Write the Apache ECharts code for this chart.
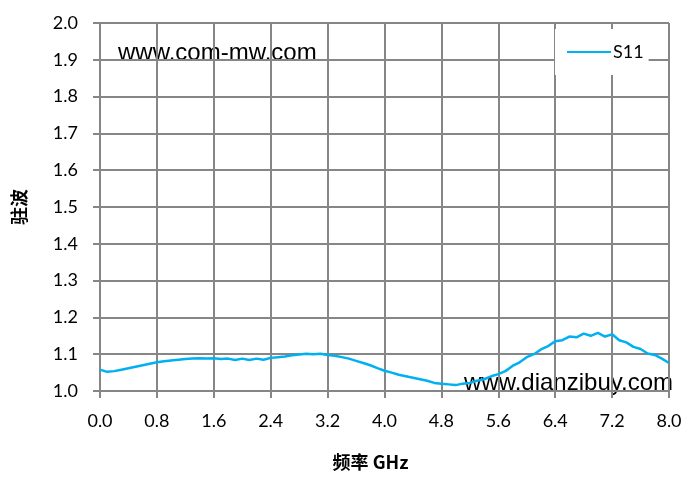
<!DOCTYPE html>
<html><head><meta charset="utf-8">
<script src="https://cdn.jsdelivr.net/npm/echarts@6/dist/echarts.min.js"></script>
<style>html,body{margin:0;padding:0;background:#fff}#c{width:696px;height:487px}</style>
</head><body><div id="c"></div>
<script>
var freq = [0.0,0.1,0.2,0.3,0.4,0.5,0.6,0.7,0.8,0.9,1.0,1.1,1.2,1.3,1.4,1.5,1.6,1.7,1.8,1.9,2.0,2.1,2.2,2.3,2.4,2.5,2.6,2.7,2.8,2.9,3.0,3.1,3.2,3.3,3.4,3.5,3.6,3.7,3.8,3.9,4.0,4.1,4.2,4.3,4.4,4.5,4.6,4.7,4.8,4.9,5.0,5.1,5.2,5.3,5.4,5.5,5.6,5.7,5.8,5.9,6.0,6.1,6.2,6.3,6.4,6.5,6.6,6.7,6.8,6.9,7.0,7.1,7.2,7.3,7.4,7.5,7.6,7.7,7.8,7.9,8.0];
var s11 = [1.058,1.052,1.054,1.058,1.062,1.066,1.070,1.074,1.078,1.081,1.083,1.085,1.087,1.088,1.089,1.088,1.089,1.087,1.088,1.084,1.088,1.084,1.088,1.085,1.090,1.092,1.094,1.097,1.099,1.101,1.100,1.101,1.098,1.096,1.092,1.088,1.082,1.076,1.070,1.062,1.055,1.050,1.044,1.040,1.036,1.032,1.028,1.022,1.020,1.018,1.016,1.020,1.022,1.028,1.032,1.040,1.046,1.054,1.068,1.078,1.092,1.100,1.113,1.122,1.135,1.138,1.148,1.146,1.156,1.150,1.158,1.148,1.154,1.138,1.132,1.120,1.114,1.102,1.098,1.088,1.076];
var seriesName = 'S11';
var xTitle = '频率 GHz';
var yTitle = '驻波';
var watermark1 = 'www.com-mw.com';
var watermark2 = 'www.dianzibuy.com';

var data = freq.map(function(f,i){return [f, s11[i]];});
var chart = echarts.init(document.getElementById('c'));
var gridColor = '#868686';
var lbl = {fontFamily:'Lato', fontSize:18, color:'#000'};
chart.setOption({
  animation:false,
  grid:{left:100,right:27,top:23,bottom:96,containLabel:false},
  xAxis:{type:'value',min:0,max:8,interval:0.8,
    name:xTitle,nameLocation:'middle',nameGap:62,
    nameTextStyle:{fontFamily:'Noto Sans CJK SC',fontWeight:'bold',fontSize:18,color:'#000',padding:[0,28,0,0]},
    axisLine:{lineStyle:{color:gridColor,width:2}},
    axisTick:{show:true,length:7,lineStyle:{color:gridColor,width:2}},
    axisLabel:Object.assign({margin:21,formatter:function(v){return v.toFixed(1);}},lbl),
    splitLine:{show:true,lineStyle:{color:gridColor,width:2}}},
  yAxis:{type:'value',min:1,max:2,interval:0.1,
    name:yTitle,nameLocation:'middle',nameGap:72,nameRotate:90,
    nameTextStyle:{fontFamily:'Noto Sans CJK SC',fontWeight:'bold',fontSize:18,color:'#000'},
    axisLine:{show:true,lineStyle:{color:gridColor,width:2}},
    axisTick:{show:true,length:7,lineStyle:{color:gridColor,width:2}},
    axisLabel:Object.assign({margin:22,formatter:function(v){return v.toFixed(1);}},lbl),
    splitLine:{show:true,lineStyle:{color:gridColor,width:2}}},
  legend:{left:555,top:29,orient:'vertical',backgroundColor:'#fff',padding:[14,5,14,12],
    icon:'rect',itemWidth:44,itemHeight:2,itemGap:0,
    textStyle:{fontFamily:'Lato',fontSize:18,color:'#000',padding:[0,2,0,-3]},
    data:[seriesName]},
  graphic:[
    {type:'text',left:118,top:41,style:{text:watermark1,fontFamily:'Liberation Sans',fontSize:24,fill:'#000'}},
    {type:'text',left:464,top:371,style:{text:watermark2,fontFamily:'Liberation Sans',fontSize:24,fill:'#000'}}
  ],
  series:[{name:seriesName,type:'line',data:data,symbol:'none',smooth:false,
    lineStyle:{color:'#00B0F0',width:2.5},itemStyle:{color:'#00B0F0'}}]
});
</script></body></html>
